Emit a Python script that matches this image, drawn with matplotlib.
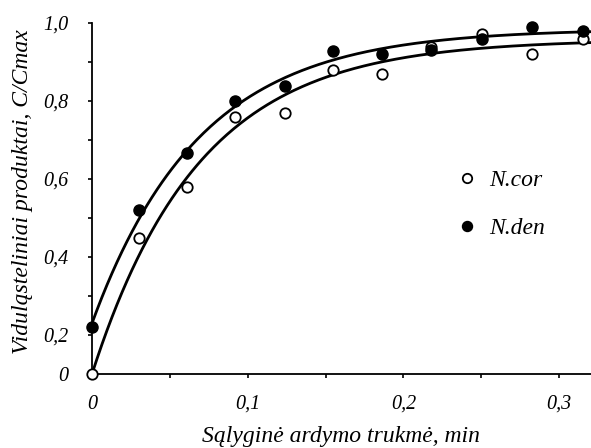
import numpy as np
import matplotlib
matplotlib.use("Agg")
import matplotlib.pyplot as plt
from matplotlib.ticker import FixedLocator, FixedFormatter

plt.rcParams['font.family'] = ['Liberation Serif', 'DejaVu Serif']
plt.rcParams['font.style'] = 'italic'

# laikas, min
trukme = [0, 0.0301, 0.0609, 0.0921, 0.1237, 0.155, 0.1863, 0.218, 0.2504, 0.2827, 0.3154]
# ašies vienetais (apačia 0,1 pažymėta kaip "0")
n_cor = [0.10, 0.448, 0.58, 0.76, 0.77, 0.879, 0.869, 0.939, 0.971, 0.92, 0.959]
n_den = [0.221, 0.52, 0.667, 0.801, 0.839, 0.929, 0.92, 0.932, 0.959, 0.989, 0.979]

# aproksimacija y = A - (A - y0) * exp(-k x)
fit_cor = (0.958, 0.10, 14.5)
fit_den = (0.985, 0.23, 14.5)

y_ticks = [0.1, 0.2, 0.4, 0.6, 0.8, 1.0]
y_labels = ['0', '0,2', '0,4', '0,6', '0,8', '1,0']
x_ticks = [0, 0.1, 0.2, 0.3]
x_labels = ['0', '0,1', '0,2', '0,3']


def kreive(x, p):
    a, y0, k = p
    return a - (a - y0) * np.exp(-k * x)


fig = plt.figure(figsize=(5.91, 4.48), dpi=100)
ax = fig.add_axes([92 / 591, 74 / 448, 1 - 92 / 591, (374 - 23) / 448])

xs = np.linspace(0, 0.3205, 300)
ax.plot(xs, kreive(xs, fit_den), color='black', lw=2.0, zorder=2)
ax.plot(xs, kreive(xs, fit_cor), color='black', lw=2.0, zorder=2)

ax.plot(trukme, n_cor, 'o', ms=7.5, mfc='white', mec='black', mew=1.3,
        clip_on=False, zorder=3, label='N.cor')
ax.plot(trukme, n_den, 'o', ms=8, mfc='black', mec='black',
        clip_on=False, zorder=4, label='N.den')

ax.set_xlim(0, 0.3205)
ax.set_ylim(0.1, 1.0)

ax.yaxis.set_major_locator(FixedLocator(y_ticks))
ax.yaxis.set_major_formatter(FixedFormatter(y_labels))
ax.yaxis.set_minor_locator(FixedLocator([0.3, 0.5, 0.7, 0.9]))
ax.xaxis.set_major_locator(FixedLocator(x_ticks))
ax.xaxis.set_major_formatter(FixedFormatter(x_labels))
ax.xaxis.set_minor_locator(FixedLocator([0.05, 0.15, 0.25]))

ax.tick_params(which='both', direction='out', length=3, width=1.2, labelsize=14.5)
ax.tick_params(axis='y', pad=14)
ax.tick_params(axis='x', pad=12)

for s in ['top', 'right']:
    ax.spines[s].set_visible(False)
for s in ['left', 'bottom']:
    ax.spines[s].set_linewidth(1.3)

ax.set_xlabel('Sąlyginė ardymo trukmė, min', fontsize=17, labelpad=9)
ax.set_ylabel('Viduląsteliniai produktai, C/Cmax', fontsize=17)
ax.yaxis.set_label_coords(-0.119, 0.52)

leg = ax.legend(loc='upper left', bbox_to_anchor=(0.69, 0.642), frameon=False,
                fontsize=17, numpoints=1, handlelength=0.8, handletextpad=0.55,
                labelspacing=1.12, markerscale=0.9)

fig.savefig('out.png', dpi=100)
